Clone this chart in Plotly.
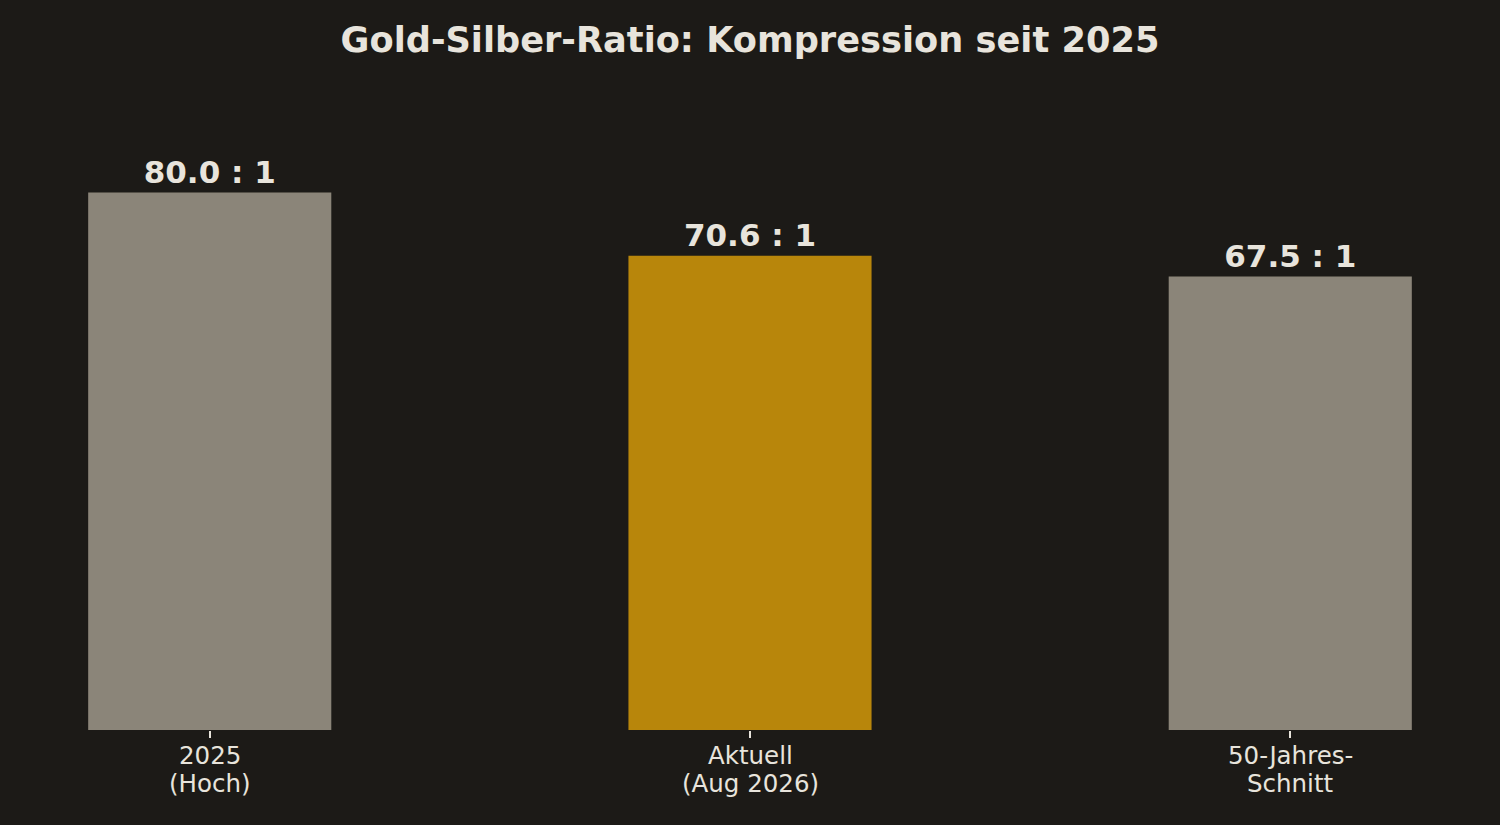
import plotly.graph_objects as go

# data
line1 = ["2025", "Aktuell", "50-Jahres-"]
line2 = ["(Hoch)", "(Aug 2026)", "Schnitt"]
ratios = [80.0, 70.6, 67.5]
colors = ["#8b8579", "#b8860b", "#8b8579"]

BG = "#1c1a17"
TXT = "#e8e4dc"
FONT = "DejaVu Sans"

labels = [f"{v:.1f} : 1" for v in ratios]
xs = list(range(len(ratios)))

fig = go.Figure()
fig.add_trace(go.Bar(
    x=xs,
    y=ratios,
    width=0.45,
    marker=dict(color=colors, line=dict(width=0)),
    text=labels,
    textposition="outside",
    textfont=dict(family=FONT, size=31, color=TXT, weight="bold"),
    cliponaxis=False,
    hoverinfo="skip",
))

# two-line category labels, tighter line spacing than plotly's tick text
for x, a, b in zip(xs, line1, line2):
    for txt, shift in ((a, -25), (b, -53)):
        fig.add_annotation(x=x, xref="x", y=0, yref="paper", text=txt,
                           showarrow=False, xanchor="center", yanchor="middle",
                           yshift=shift, font=dict(family=FONT, size=24.5, color=TXT))

fig.update_layout(
    width=1500, height=825,
    paper_bgcolor=BG, plot_bgcolor=BG,
    margin=dict(l=22, r=22, t=112, b=95),
    showlegend=False,
    title=dict(
        text="<b>Gold-Silber-Ratio: Kompression seit 2025</b>",
        x=0.5, xanchor="center", y=1 - 40 / 825, yanchor="middle",
        yref="container",
        font=dict(family=FONT, size=35.2, color=TXT),
    ),
    font=dict(family=FONT, color=TXT),
)
fig.update_xaxes(
    range=[-0.3475, 2.3475],
    tickvals=xs,
    showticklabels=False,
    ticks="outside", ticklen=7, tickwidth=1.5, tickcolor=TXT,
    showgrid=False, zeroline=False, showline=False,
)
fig.update_yaxes(range=[0, 92], visible=False, showgrid=False, zeroline=False)

# drop the page margin so the chart sits flush in the window
fig.write_html("out.html", config={"displayModeBar": False},
               post_script="document.body.style.margin='0';")
